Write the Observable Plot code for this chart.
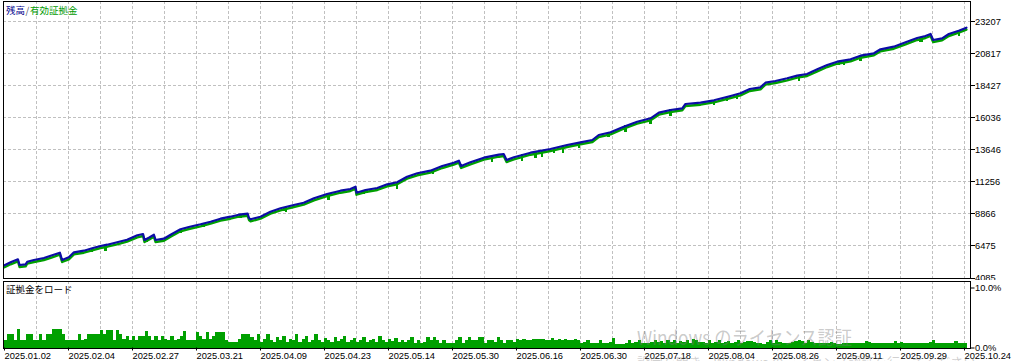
<!DOCTYPE html>
<html><head><meta charset="utf-8">
<script src="https://cdn.jsdelivr.net/npm/d3@7"></script>
<script src="https://cdn.jsdelivr.net/npm/@observablehq/plot@0.6"></script>
<style>
html,body{margin:0;padding:0;background:#fff;width:1012px;height:361px;overflow:hidden;}
#wrap{position:relative;width:1012px;height:361px;}
#top,#bot{position:absolute;left:0;}
#top{top:0;} #bot{top:280px;}
.lbl{position:absolute;font-family:"Noto Sans CJK JP";font-size:9.5px;line-height:1;white-space:nowrap;}
#wm{position:absolute;left:0;top:0;pointer-events:none;}
</style></head><body>
<div id="wrap">
  <div id="top"></div>
  <div id="bot"></div>
  <div class="lbl" style="left:6px;top:6px;"><span style="color:#00008c">残高</span><span style="color:#556">&#8202;/&#8202;</span><span style="color:#009a00">有効証拠金</span></div>
  <div class="lbl" style="left:6px;top:284.5px;color:#000">証拠金をロード</div>
  <svg id="wm" width="1012" height="361">
    <text x="637" y="345" font-family="Noto Sans CJK JP" font-size="19" fill="rgba(120,120,120,0.4)" textLength="215" lengthAdjust="spacingAndGlyphs">Windows のライセンス認証</text>
    <text x="637" y="367" font-family="Noto Sans CJK JP" font-size="13" fill="rgba(120,120,120,0.35)" textLength="352" lengthAdjust="spacingAndGlyphs">設定を開き、Windows のライセンス認証を行ってください。</text>
  </svg>
</div>
<script>
// ---- data ----
const yTicks = [4085, 6475, 8866, 11256, 13646, 16036, 18427, 20817, 23207];
const dateLabels = ["2025.01.02","2025.02.04","2025.02.27","2025.03.21","2025.04.09","2025.04.23","2025.05.14","2025.05.30","2025.06.16","2025.06.30","2025.07.18","2025.08.04","2025.08.26","2025.09.11","2025.09.29","2025.10.24"];
const dateTickIdx = [0,20,40,60,80,100,120,140,160,180,200,220,240,260,280,300];

const balanceIdx = [0,1.9,4.2,4.7,6.6,7.1,9.2,12.3,14.9,17.3,18.0,20.1,21.7,24.8,27.4,30.0,32.1,35.2,38.3,41.5,43.3,43.75,45.1,46.7,47.2,49.8,51.9,55.0,57.6,61.25,64.4,67.5,70.6,73.2,76.0,76.4,76.9,80.0,83.1,86.25,90.4,93.5,96.7,100.8,105,108.1,109.7,110,112.8,116.5,119.6,122.7,125.8,129.0,133.1,136.8,140.4,142.0,142.7,145.6,149.8,154.5,156.0,156.9,159.2,164.4,170.6,175.8,180,183.7,185.7,189.4,193.5,197.7,201.9,204.5,208.1,211.8,212.8,217.5,221.7,226.9,230,232.9,236.25,237.8,240.9,244.6,247.7,250.8,254,257.1,260.2,264.4,267.5,271.7,273.75,277.9,281.6,285.2,287.8,289.4,290.2,293.0,295.1,298.2,300.6];
const balanceVal = [5034,5258,5482,5056,5108,5302,5429,5579,5780,5975,5429,5631,6004,6124,6303,6475,6572,6751,6946,7274,7371,6923,7095,7319,6923,7020,7319,7722,7894,8096,8290,8514,8663,8813,8887,8566,8469,8663,9037,9291,9537,9709,10038,10359,10605,10732,10904,10456,10658,10807,11083,11233,11651,11905,12099,12450,12696,12846,12450,12726,13070,13294,13346,12898,13100,13443,13720,14018,14220,14392,14765,14967,15385,15759,16013,16431,16633,16760,17081,17178,17357,17678,17880,18201,18328,18672,18798,19000,19195,19321,19672,19993,20240,20419,20688,20867,21166,21360,21689,22010,22159,22309,21861,21987,22309,22555,22780];

const spikeIdx = [18.4,27.4,31.6,44.6,50.8,55,60.2,62.2,68,73.75,87.3,88.0,101.3,112.3,113.3,122.7,131,134,143,152.4,161.8,165.9,168,171.7,174.6,179.5,188.8,194.1,201.9,208.1,216.5,221.7,225.8,229,234.2,248.2,260.7,262.3,267.5,275.8,286.25,286.8,298.2];
const spikeLow = [5302,6004,6049,6722,6998,7424,7797,7872,8365,8544,9037,8992,9858,10284,10411,10710,11830,11830,12353,12696,12771,13025,13100,13399,13399,13720,14564,14967,15565,16132,16879,16984,17252,17432,18052,18746,19919,19993,20240,21241,21689,21689,22107];

const marginLoad = [
1.2,2.3,2.3,1.2,3.1,1.2,1.2,2.3,2.3,1.2,1.2,2.3,1.2,2.2,2.2,3.1,3.1,3.1,2.2,1.2,
1.2,1.2,1.2,2.2,1.2,1.5,2.2,2.2,2.2,2.2,3.0,2.2,3.0,3.0,1.2,3.0,2.2,1.5,1.9,1.2,
1.9,1.2,1.9,1.9,2.7,1.9,1.2,1.9,1.2,1.9,1.5,1.2,1.9,1.2,1.5,1.9,2.7,1.2,1.2,1.2,
2.6,1.9,1.5,2.6,1.5,1.9,2.6,2.6,2.6,1.2,0.9,0.9,0.9,1.5,2.2,2.3,2.3,
1.8,1.2,2.2,1.0,1.5,2.3,1.2,0.9,1.8,1.2,2.0,1.0,1.5,1.2,2.2,1.0,1.4,1.9,1.0,1.2,
2.3,1.3,1.0,1.6,1.2,0.9,1.7,1.1,1.4,2.0,1.0,1.2,1.6,0.9,1.3,1.8,1.0,1.2,1.5,1.0,
1.9,1.2,0.9,1.4,1.1,1.6,1.0,
1.2,0.9,1.2,1.7,0.8,1.2,0.8,1.0,1.7,1.2,1.8,1.2,0.8,1.2,0.8,0.8,0.8,1.2,1.8,0.8,
1.2,1.8,1.2,1.2,1.8,1.8,0.8,1.2,1.2,1.0,1.7,1.2,0.8,1.2,1.2,1.0,1.5,1.2,1.5,1.2,
1.2,1.5,1.5,1.5,1.5,1.2,1.2,1.6,1.2,1.5,1.2,1.5,1.2,1.2,1.5,1.2,0.8,1.0,1.2,0.8,
0.8,0.8,1.2,0.8,0.8,1.0,1.6,0.6,0.6,0.6,0.8,1.2,0.8,1.0,1.2,0.8,0.8,0.8,1.0,1.2,
0.9,1.1,0.8,1.2,0.9,1.2,0.8,1.1,0.9,1.2,0.8,1.5,1.2,0.9,
1.0,0.8,1.2,0.7,1.0,1.3,0.8,0.9,1.1,0.7,1.0,1.2,0.8,0.9,1.1,
1.1,0.9,0.8,0.8,0.6,1.0,1.2,0.8,1.2,0.9,0.8,0.8,0.8,0.9,1.1,1.2,1.1,0.8,1.2,1.0,
0.8,0.8,0.8,0.7,0.8,0.9,0.7,0.6,0.6,0.8,0.7,0.8,0.7,0.8,0.8,0.8,1.1,1.0,0.8,0.8,
0.7,0.8,0.8,0.8,0.8,1.1,0.8,0.9,0.8,0.7,0.7,0.8,0.8,0.7,0.8,0.8,0.9,1.2,0.8,0.7,
0.7,0.7,0.8,0.8,1.1,0.8,0.7,0.8];

// ---- build ----
const BLUE = "#0c0ca6", GREEN = "#00a000", GRID = "#c0c0c0";
const xDomain = [-0.469, 301.72];
const gridIdx = d3.range(10, 301, 10);
const labelByIdx = new Map(dateTickIdx.map((d, k) => [d, dateLabels[k]]));

const balance = balanceIdx.map((i, k) => ({i, v: balanceVal[k]}));
const bis = d3.bisector(d => d.i).left;
function balAt(i) {
  const k = bis(balance, i);
  if (k <= 0) return balance[0].v;
  if (k >= balance.length) return balance[balance.length - 1].v;
  const a = balance[k - 1], b = balance[k];
  return a.v + (b.v - a.v) * (i - a.i) / (b.i - a.i);
}
const spikes = spikeIdx.map((i, k) => ({i, lo: spikeLow[k], hi: balAt(i)}));
const loads = marginLoad.map((v, i) => ({i, v}));

const font = {fontFamily: "Liberation Sans, Arial, sans-serif", fontSize: "9.3px", color: "#000", background: "transparent"};

const topPlot = Plot.plot({
  width: 1012, height: 280,
  marginLeft: 2.5, marginRight: 42.5, marginTop: 0.5, marginBottom: 2.5,
  style: font,
  x: {domain: xDomain, axis: null},
  y: {domain: [4085, 24773], axis: null},
  marks: [
    Plot.gridY(yTicks.slice(1), {stroke: GRID, strokeOpacity: 1, strokeDasharray: "3,2", shapeRendering: "crispEdges"}),
    Plot.gridX(gridIdx, {stroke: GRID, strokeOpacity: 1, strokeDasharray: "3,2", shapeRendering: "crispEdges"}),
    Plot.line(balance, {x: "i", y: "v", stroke: GREEN, strokeWidth: 2.4, dy: 2}),
    Plot.ruleX(spikes, {x: "i", y1: "lo", y2: "hi", stroke: GREEN, strokeWidth: 2.4, shapeRendering: "crispEdges"}),
    Plot.line(balance, {x: "i", y: "v", stroke: BLUE, strokeWidth: 2.2}),
    Plot.frame({stroke: "#000", shapeRendering: "crispEdges"}),
    Plot.axisY(yTicks, {anchor: "right", label: null, tickSize: 4, tickPadding: 1, tickFormat: d => String(d), shapeRendering: "crispEdges"})
  ]
});
document.getElementById("top").append(topPlot);

const botPlot = Plot.plot({
  width: 1012, height: 81,
  marginLeft: 2.5, marginRight: 42.5, marginTop: 0.5, marginBottom: 13.5,
  style: font,
  x: {domain: xDomain, axis: null},
  y: {domain: [0, 67 / 6], axis: null},
  marks: [
    Plot.gridX(gridIdx, {stroke: GRID, strokeOpacity: 1, strokeDasharray: "3,2", shapeRendering: "crispEdges"}),
    Plot.rectY(loads, {x1: "i", x2: d => d.i + 1, y: "v", fill: GREEN, shapeRendering: "crispEdges"}),
    Plot.frame({stroke: "#000", shapeRendering: "crispEdges"}),
    Plot.axisY([0, 10], {anchor: "right", label: null, tickSize: 4, tickPadding: 1, tickFormat: d => d.toFixed(1) + "%"}),
    Plot.axisX(dateTickIdx, {anchor: "bottom", label: null, tickSize: 3, tickPadding: 1, textAnchor: "start", tickFormat: d => labelByIdx.get(d)})
  ]
});
document.getElementById("bot").append(botPlot);
</script>
</body></html>
